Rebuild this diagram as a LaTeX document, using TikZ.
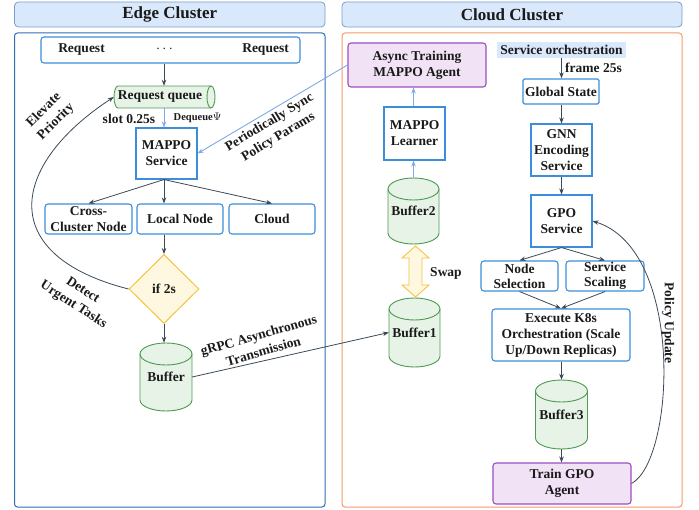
\documentclass[tikz,border=0pt]{standalone}
\usepackage{fontspec}
\setmainfont{Liberation Serif}
\usetikzlibrary{arrows.meta,shapes.geometric}
\definecolor{txt}{HTML}{1A1A1A}
\definecolor{boxblue}{HTML}{3C8EDC}
\definecolor{panelblue}{HTML}{2F6DB3}
\definecolor{panelorange}{HTML}{F29A68}
\definecolor{headfill}{HTML}{DAE8FC}
\definecolor{headdraw}{HTML}{7A9CC9}
\definecolor{gfill}{HTML}{E6F3E6}
\definecolor{gdraw}{HTML}{4E9A52}
\definecolor{yfill}{HTML}{FFF8E0}
\definecolor{ydraw}{HTML}{F5C242}
\definecolor{pfill}{HTML}{F1E2F6}
\definecolor{pdraw}{HTML}{9C4DC0}
\definecolor{dark}{HTML}{3A4A57}
\definecolor{lblue}{HTML}{7EAAE6}
\newcommand\fs{\fontsize{13.5}{16}\selectfont\bfseries}
\newcommand\mycyl[6]{%
  \pgfmathsetmacro\cyL{#2-#5}\pgfmathsetmacro\cyR{#2+#5}%
  \pgfmathsetmacro\cyT{-#3-11}\pgfmathsetmacro\cyB{-#4+11}%
  \filldraw[cylsty] (\cyL,\cyT) -- (\cyL,\cyB) arc[start angle=180,end angle=360,x radius=#5,y radius=11] -- (\cyR,\cyT) arc[start angle=0,end angle=180,x radius=#5,y radius=11] -- cycle;
  \draw[cylsty,fill=none] (\cyL,\cyT) arc[start angle=180,end angle=360,x radius=#5,y radius=11];
  \node[minimum width={2*#5}, minimum height={#4-#3}, inner sep=0pt] (#1) at (#2,{-(#3+#4)/2}) {#6};
}
\tikzset{
  every node/.style={font=\fs, text=txt, align=center},
  header/.style={draw=headdraw, fill=headfill, line width=0.8pt, rounded corners=4pt, font=\fontsize{17}{20}\selectfont\bfseries},
  panel/.style={line width=1pt, rounded corners=3pt},
  bbox/.style={draw=boxblue, fill=white, line width=1.1pt, inner sep=1pt},
  rbox/.style={bbox, rounded corners=3pt},
  pbox/.style={draw=pdraw, fill=pfill, line width=1.1pt, rounded corners=3pt, inner sep=1pt},
  cylsty/.style={draw=gdraw, fill=gfill, line width=0.9pt},
  darr/.style={draw=dark, line width=0.8pt, -{Stealth[length=6pt,width=4.5pt]}},
  larr/.style={draw=lblue, line width=0.9pt, -{Stealth[length=6pt,width=4.5pt]}},
  dline/.style={draw=dark, line width=0.8pt},
}
\begin{document}
\begin{tikzpicture}[x=1pt,y=1pt]
\useasboundingbox (0,0) rectangle (699,-510);
% headers and panels
\node[header, minimum width=310.5, minimum height=25] (edgehead) at (169.75,-14.5) {Edge Cluster};
\node[header, minimum width=340, minimum height=25] (cloudhead) at (512,-14.5) {Cloud Cluster};
\node[panel, draw=panelblue, minimum width=310.5, minimum height=474] (edgepanel) at (169.75,-270) {};
\node[panel, draw=panelorange, minimum width=340, minimum height=474] (cloudpanel) at (512,-270) {};
\coordinate (col) at (164,0);
\coordinate (colc) at (413.5,0);
\coordinate (colr) at (561.5,0);
% ---------- Edge cluster ----------
\node[rbox, minimum width=259, minimum height=26] (reqbox) at (170.5,-50) {};
\node (req1) at (81.5,-50) {Request};
\node (dots) at (164.5,-49) {$\cdots$};
\node (req2) at (265.5,-50) {Request};
% request queue (horizontal cylinder)
\filldraw[cylsty] (118,-86) -- (211,-86) arc[start angle=90,end angle=-90,x radius=4,y radius=11] -- (118,-108) arc[start angle=270,end angle=90,x radius=4,y radius=11] -- cycle;
\draw[cylsty,fill=none] (211,-86) arc[start angle=90,end angle=270,x radius=4,y radius=11];
\node[minimum width=92, minimum height=22, inner sep=0pt] (rq) at (160,-97) {Request queue};
\node (slot) at (129,-119) {slot 0.25s};
\node[font=\fontsize{10.5}{12}\selectfont\bfseries] (deq) at (197.5,-118) {Dequeue$\Psi$};
\node[bbox, minimum width=61, minimum height=51] (mappo) at (166.5,-153.5) {MAPPO\\Service};
\node[rbox, minimum width=87, minimum height=30, font=\fontsize{13.5}{15.5}\selectfont\bfseries] (cross) at (88.5,-219) {Cross-\\Cluster Node};
\node[rbox, minimum width=86, minimum height=30] (local) at (180,-219) {Local Node};
\node[rbox, minimum width=86, minimum height=30] (cloud) at (272,-219) {Cloud};
\node[diamond, draw=ydraw, fill=yfill, line width=1pt, minimum width=70, minimum height=69, inner sep=0pt, aspect=1] (dec) at (164,-289) {if 2s};
\mycyl{buf}{166}{343}{411}{26}{Buffer}
% edge connectors
\draw[darr] (reqbox.south -| col) -- (rq.north -| col);
\draw[larr] (rq.south -| col) -- (mappo.north -| col);
\draw[darr] (mappo.south -| col) -- (cross.north);
\draw[darr] (mappo.south -| col) -- (local.north -| col);
\draw[darr] (mappo.south -| col) -- (cloud.north);
\draw[darr] (local.south -| col) -- (dec.north);
\draw[darr] (dec.south) -- (buf.north -| col);
\draw[darr] (dec.west) .. controls (-5,-255) and (10,-165) .. (rq.west);
\node[rotate=45, font=\fontsize{13.5}{17}\selectfont\bfseries] (elev) at (50,-116) {Elevate\\Priority};
\node[rotate=-33, font=\fontsize{13.5}{17}\selectfont\bfseries] (detect) at (78,-298) {Detect\\Urgent Tasks};
\node[rotate=31, font=\fontsize{13.5}{17}\selectfont\bfseries] (sync) at (274,-130) {Periodically Sync\\Policy Params};
\node[rotate=16, font=\fontsize{13.5}{17}\selectfont\bfseries] (grpc) at (261,-343) {gRPC Asynchronous\\Transmission};
% ---------- Cloud cluster ----------
\node[pbox, minimum width=138, minimum height=44] (agent) at (417,-65) {Async Training\\MAPPO Agent};
\node[bbox, minimum width=61, minimum height=53] (learner) at (414.5,-133.5) {MAPPO\\Learner};
\mycyl{buftwo}{413.5}{178}{244}{25.5}{Buffer2}
\mycyl{bufone}{414.5}{298}{367}{25.5}{Buffer1}
\filldraw[draw=ydraw, fill=yfill, line width=0.9pt] (415.5,-246) -- (429,-258) -- (422,-258) -- (422,-285) -- (429,-285) -- (415.5,-297) -- (402,-285) -- (409,-285) -- (409,-258) -- (402,-258) -- cycle;
\node (swap) at (446,-273) {Swap};
\node[fill=headfill, inner sep=0pt, minimum width=129, minimum height=16] (orch) at (561.5,-50) {Service orchestration};
\node (frame) at (593.5,-68) {frame 25s};
\node[bbox, rounded corners=1.5pt, line width=1.3pt, minimum width=76, minimum height=25] (gstate) at (561,-91.5) {Global State};
\node[bbox, minimum width=61, minimum height=52] (gnn) at (561.5,-150) {GNN\\Encoding\\Service};
\node[bbox, minimum width=61, minimum height=52] (gpo) at (561.5,-221) {GPO\\Service};
\node[rbox, minimum width=77, minimum height=30, font=\fontsize{13.5}{15}\selectfont\bfseries] (nsel) at (519.5,-276) {Node\\Selection};
\node[rbox, minimum width=78, minimum height=30, font=\fontsize{13.5}{15}\selectfont\bfseries] (sscale) at (605,-276) {Service\\Scaling};
\node[rbox, minimum width=138, minimum height=52] (exec) at (561,-335) {Execute K8s\\Orchestration (Scale\\Up/Down Replicas)};
\mycyl{bufthree}{561.5}{380}{449}{26}{Buffer3}
\node[pbox, minimum width=138, minimum height=41] (train) at (562,-483.5) {Train GPO\\Agent};
% cloud connectors
\draw[larr] (learner.north -| colc) -- (agent.south -| colc);
\draw[larr] (buftwo.north -| colc) -- (learner.south -| colc);
\draw[larr] (agent.west) -- (mappo.east);
\draw[darr] (buf.east) -- (bufone.west);
\draw[darr] (orch.south -| colr) -- (gstate.north -| colr);
\draw[darr] (gstate.south -| colr) -- (gnn.north -| colr);
\draw[darr] (gnn.south -| colr) -- (gpo.north -| colr);
\draw[darr] (gpo.south) -- (nsel.north);
\draw[darr] (gpo.south) -- (sscale.north);
\draw[darr] (nsel.south) -- (exec.north);
\draw[darr] (sscale.south) -- (exec.north);
\draw[darr] (exec.south -| colr) -- (bufthree.north -| colr);
\draw[darr] (bufthree.south -| colr) -- (train.north -| colr);
\draw[darr] (train.east) .. controls (675,-460) and (685,-250) .. (gpo.east);
\node[rotate=-90] (pu) at (668,-323) {Policy Update};
\end{tikzpicture}
\end{document}
